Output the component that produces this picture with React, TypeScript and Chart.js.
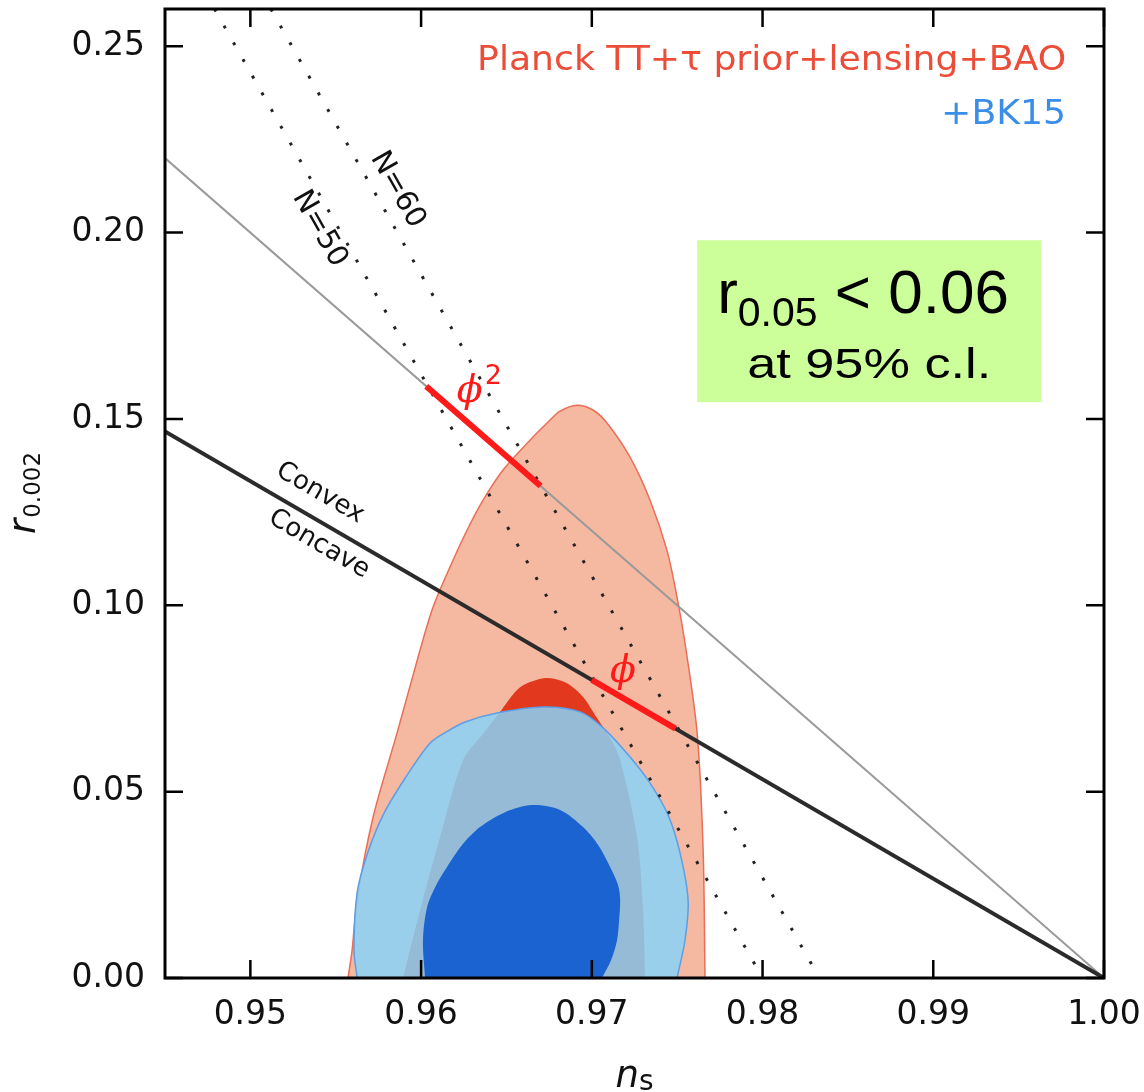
import React, { useEffect, useRef } from "react";
import { Chart, registerables } from "chart.js";

Chart.register(...registerables);

// ---------- axes ----------
const xMin = 0.945;
const xMax = 1.0;
const yMin = 0.0;
const yMax = 0.26;
const xTickValues = [0.95, 0.96, 0.97, 0.98, 0.99, 1.0];
const yTickValues = [0.0, 0.05, 0.1, 0.15, 0.2, 0.25];

// ---------- Planck TT+tau prior+lensing+BAO, 95% region (n_s, r) ----------
const planck95Ns = [0.95572, 0.95596, 0.95625, 0.95719, 0.95859, 0.95994, 0.9607, 0.96187, 0.96272, 0.96363, 0.9648, 0.96638, 0.96738, 0.96814, 0.96914, 0.97007, 0.97089, 0.97223, 0.97341, 0.9744, 0.97499, 0.97552, 0.97617, 0.97652, 0.97663];
const planck95R = [0.0, 0.0075, 0.0209, 0.0432, 0.0657, 0.088, 0.0995, 0.1121, 0.1204, 0.1282, 0.1363, 0.1443, 0.1489, 0.1521, 0.1537, 0.1524, 0.1489, 0.1398, 0.1282, 0.1148, 0.1022, 0.088, 0.0657, 0.0343, 0.0];

// ---------- Planck 68% region ----------
const planck68Ns = [0.95894, 0.95994, 0.96111, 0.96246, 0.96357, 0.96462, 0.96562, 0.96638, 0.96744, 0.96855, 0.96949, 0.97031, 0.97107, 0.97166, 0.97265, 0.973, 0.97312];
const planck68R = [0.0, 0.0182, 0.0378, 0.0585, 0.0652, 0.0714, 0.0773, 0.0794, 0.0805, 0.0791, 0.0754, 0.0697, 0.0644, 0.0585, 0.0378, 0.0182, 0.0];

// ---------- +BK15, 95% region ----------
const bk95Ns = [0.95625, 0.95607, 0.95625, 0.95683, 0.95777, 0.95906, 0.96052, 0.96146, 0.96258, 0.96445, 0.96714, 0.96931, 0.97066, 0.97224, 0.97341, 0.97447, 0.97517, 0.97564, 0.97546, 0.97499];
const bk95R = [0.0, 0.0075, 0.0228, 0.033, 0.0437, 0.0536, 0.063, 0.066, 0.0687, 0.0711, 0.0727, 0.0714, 0.0671, 0.0593, 0.0523, 0.0437, 0.0335, 0.0209, 0.0102, 0.0];

// ---------- +BK15, 68% region ----------
const bk68Ns = [0.96023, 0.96011, 0.96035, 0.96088, 0.96152, 0.9624, 0.96345, 0.96492, 0.9665, 0.96814, 0.96949, 0.97037, 0.97107, 0.97154, 0.97166, 0.9716, 0.97148, 0.97113, 0.9706];
const bk68R = [0.0, 0.0102, 0.019, 0.0249, 0.0298, 0.0357, 0.0405, 0.0445, 0.0464, 0.0451, 0.0405, 0.0357, 0.0298, 0.0249, 0.0209, 0.0156, 0.0102, 0.0048, 0.0];

// ---------- model lines ----------
const phi2LineNs = [0.945, 1.0];
const phi2LineR = [0.22, 0.0];
const linearLineNs = [0.945, 1.0];
const linearLineR = [0.14667, 0.0];
const n50Ns = [0.9479, 0.98];
const n50R = [0.26, 0.0];
const n60Ns = [0.9512, 0.98333];
const n60R = [0.26, 0.0];
const phi2SegNs = [0.9603, 0.967];
const phi2SegR = [0.1588, 0.132];
const phiSegNs = [0.97, 0.9749];
const phiSegR = [0.08, 0.0669];

// ---------- annotation anchors (data units) ----------
const annot = {
  convex: [0.95408, 0.1301],
  concave: [0.95402, 0.1164],
  n50: [0.95405, 0.201],
  n60: [0.95862, 0.2115],
  phi2: [0.96285, 0.1545],
  phi: [0.97183, 0.0794],
  legendRight: 0.99778,
  legendR1: 0.24356,
  legendR2: 0.22908,
  box: [0.97617, 0.99632, 0.19796, 0.15451],
};

const pts = (xs: number[], ys: number[]) => xs.map((x, i) => ({ x, y: ys[i] }));

const SANS = '"DejaVu Sans"';

function fitText(ctx: CanvasRenderingContext2D, text: string, x: number, y: number, align: CanvasTextAlign, targetW: number) {
  const w = ctx.measureText(text).width;
  const s = targetW / w;
  ctx.save();
  ctx.translate(x, y);
  ctx.scale(s, 1);
  ctx.textAlign = align;
  ctx.fillText(text, 0, 0);
  ctx.restore();
}

function rotText(ctx: CanvasRenderingContext2D, text: string, cx: number, cy: number, ang: number, font: string, color: string) {
  ctx.save();
  ctx.translate(cx, cy);
  ctx.rotate(ang);
  ctx.font = font;
  ctx.fillStyle = color;
  ctx.textAlign = "center";
  ctx.textBaseline = "middle";
  ctx.fillText(text, 0, 0);
  ctx.restore();
}

const overlayPlugin = {
  id: "overlay",
  afterDatasetsDraw(chart: any) {
    const { ctx, chartArea: a } = chart;
    const xs = chart.scales.x;
    const ys = chart.scales.y;
    const X = (v: number) => xs.getPixelForValue(v);
    const Y = (v: number) => ys.getPixelForValue(v);
    ctx.save();

    // frame + inward ticks
    ctx.strokeStyle = "#000";
    ctx.lineWidth = 3;
    ctx.strokeRect(a.left, a.top, a.right - a.left, a.bottom - a.top);
    ctx.lineWidth = 2.5;
    ctx.beginPath();
    for (const v of xTickValues) {
      const p = X(v);
      ctx.moveTo(p, a.bottom);
      ctx.lineTo(p, a.bottom - 18);
      ctx.moveTo(p, a.top);
      ctx.lineTo(p, a.top + 18);
    }
    for (const v of yTickValues) {
      const p = Y(v);
      ctx.moveTo(a.left, p);
      ctx.lineTo(a.left + 18, p);
      ctx.moveTo(a.right, p);
      ctx.lineTo(a.right - 18, p);
    }
    ctx.stroke();

    // rotated labels
    const angLin = Math.atan2(Y(linearLineR[1]) - Y(linearLineR[0]), X(linearLineNs[1]) - X(linearLineNs[0]));
    const angN = Math.atan2(Y(n50R[1]) - Y(n50R[0]), X(n50Ns[1]) - X(n50Ns[0]));
    rotText(ctx, "Convex", X(annot.convex[0]), Y(annot.convex[1]), angLin, `26px ${SANS}`, "#111");
    rotText(ctx, "Concave", X(annot.concave[0]), Y(annot.concave[1]), angLin, `26px ${SANS}`, "#111");
    rotText(ctx, "N=50", X(annot.n50[0]), Y(annot.n50[1]), angN, `29px ${SANS}`, "#111");
    rotText(ctx, "N=60", X(annot.n60[0]), Y(annot.n60[1]), angN, `29px ${SANS}`, "#111");

    // phi labels
    ctx.fillStyle = "#ff1a1a";
    ctx.textBaseline = "alphabetic";
    ctx.font = 'italic 38px "DejaVu Serif"';
    ctx.textAlign = "center";
    const phiW = ctx.measureText("ϕ").width;
    ctx.fillText("ϕ", X(annot.phi2[0]), Y(annot.phi2[1]));
    ctx.font = `27px ${SANS}`;
    ctx.textAlign = "left";
    ctx.fillText("2", X(annot.phi2[0]) + phiW / 2 + 2, Y(annot.phi2[1]) - 18);
    ctx.font = 'italic 38px "DejaVu Serif"';
    ctx.textAlign = "center";
    ctx.fillText("ϕ", X(annot.phi[0]), Y(annot.phi[1]));

    // legend text
    ctx.font = `34px ${SANS}`;
    ctx.fillStyle = "#ec4d38";
    fitText(ctx, "Planck TT+τ prior+lensing+BAO", X(annot.legendRight), Y(annot.legendR1), "right", 589);
    ctx.fillStyle = "#3b8ee8";
    fitText(ctx, "+BK15", X(annot.legendRight), Y(annot.legendR2), "right", 125);

    // green box
    const bx0 = X(annot.box[0]);
    const bx1 = X(annot.box[1]);
    const by0 = Y(annot.box[2]);
    const by1 = Y(annot.box[3]);
    ctx.fillStyle = "#ccff99";
    ctx.fillRect(bx0, by0, bx1 - bx0, by1 - by0);
    ctx.fillStyle = "#000";
    ctx.textAlign = "left";
    const big = '62px "Liberation Sans"';
    const sub = '41px "Liberation Sans"';
    let cx = bx0 + 20;
    const base1 = by0 + 73;
    ctx.font = big;
    ctx.fillText("r", cx, base1);
    cx += ctx.measureText("r").width;
    ctx.font = sub;
    ctx.fillText("0.05", cx, base1 + 13);
    cx += ctx.measureText("0.05").width;
    ctx.font = big;
    ctx.fillText(" < 0.06", cx, base1);
    ctx.font = '43px "Liberation Sans"';
    fitText(ctx, "at 95% c.l.", (bx0 + bx1) / 2, by0 + 138, "center", 244);

    // axis titles
    ctx.fillStyle = "#111";
    ctx.textAlign = "left";
    ctx.textBaseline = "alphabetic";
    const nFont = `italic 37px ${SANS}`;
    const sFont = `28px ${SANS}`;
    ctx.font = nFont;
    const nW = ctx.measureText("n").width;
    ctx.font = sFont;
    const sW = ctx.measureText("s").width;
    const xt0 = (a.left + a.right) / 2 - (nW + sW) / 2;
    ctx.font = nFont;
    ctx.fillText("n", xt0, a.bottom + 109);
    ctx.font = sFont;
    ctx.fillText("s", xt0 + nW, a.bottom + 112);

    const rFont = `italic 37px ${SANS}`;
    const r2Font = `23px ${SANS}`;
    ctx.font = rFont;
    const rW = ctx.measureText("r").width;
    ctx.font = r2Font;
    const r2W = ctx.measureText("0.002").width;
    const yc = (a.top + a.bottom) / 2;
    ctx.save();
    ctx.translate(35, yc + (rW + r2W) / 2);
    ctx.rotate(-Math.PI / 2);
    ctx.font = rFont;
    ctx.fillText("r", 0, 0);
    ctx.font = r2Font;
    ctx.fillText("0.002", rW + 1, 5);
    ctx.restore();

    ctx.restore();
  },
};

const zeroPad = (s: any) => {
  s.paddingTop = 0;
  s.paddingBottom = 0;
  s.paddingLeft = 0;
  s.paddingRight = 0;
};

export default function App() {
  const canvasRef = useRef<HTMLCanvasElement | null>(null);

  useEffect(() => {
    document.body.style.margin = "0";
    const canvas = canvasRef.current;
    if (!canvas) return;
    Chart.defaults.font.family = "DejaVu Sans";

    const area = (data: any[], fill: string, border: string, bw: number, order: number) => ({
      data,
      showLine: true,
      fill: "shape",
      backgroundColor: fill,
      borderColor: border,
      borderWidth: bw,
      tension: 0.3,
      pointRadius: 0,
      order,
    });
    const line = (data: any[], color: string, width: number, order: number, dash: number[] = []) => ({
      data,
      showLine: true,
      fill: false,
      borderColor: color,
      backgroundColor: color,
      borderWidth: width,
      borderDash: dash,
      borderCapStyle: "butt",
      tension: 0,
      pointRadius: 0,
      order,
    });

    const chart = new Chart(canvas, {
      type: "scatter",
      data: {
        datasets: [
          area(pts(planck95Ns, planck95R), "#f5b8a1", "#ea6e57", 1.5, 20),
          area(pts(planck68Ns, planck68R), "#e2381d", "rgba(0,0,0,0)", 0, 19),
          area(pts(bk95Ns, bk95R), "rgba(136,210,247,0.85)", "#5d9ee6", 1.5, 18),
          area(pts(bk68Ns, bk68R), "#1b63d1", "rgba(0,0,0,0)", 0, 17),
          line(pts(n50Ns, n50R), "#222", 3, 10, [3, 16.2]),
          line(pts(n60Ns, n60R), "#222", 3, 9, [3, 16.2]),
          line(pts(phi2LineNs, phi2LineR), "#9a9a9a", 2, 8),
          line(pts(linearLineNs, linearLineR), "#2b2b2b", 4, 7),
          line(pts(phi2SegNs, phi2SegR), "#ff1a1a", 6, 2),
          line(pts(phiSegNs, phiSegR), "#ff1a1a", 6, 1),
        ] as any,
      },
      options: {
        responsive: false,
        animation: false,
        devicePixelRatio: 1,
        layout: { padding: { top: 9, right: 40, bottom: 0, left: 0 } },
        plugins: { legend: { display: false }, tooltip: { enabled: false } },
        scales: {
          x: {
            type: "linear",
            min: xMin,
            max: xMax,
            grid: { display: false },
            border: { display: false },
            afterBuildTicks: (s: any) => {
              s.ticks = xTickValues.map((v) => ({ value: v }));
            },
            afterFit: (s: any) => {
              s.height = 114;
              zeroPad(s);
            },
            ticks: {
              autoSkip: false,
              maxRotation: 0,
              padding: 10,
              color: "#111",
              font: { family: "DejaVu Sans", size: 33 },
              callback: (v: any) => Number(v).toFixed(2),
            },
          },
          y: {
            type: "linear",
            min: yMin,
            max: yMax,
            grid: { display: false },
            border: { display: false },
            afterBuildTicks: (s: any) => {
              s.ticks = yTickValues.map((v) => ({ value: v }));
            },
            afterFit: (s: any) => {
              s.width = 165;
              zeroPad(s);
            },
            ticks: {
              autoSkip: false,
              padding: 12,
              color: "#111",
              font: { family: "DejaVu Sans", size: 33 },
              callback: (v: any) => Number(v).toFixed(2),
            },
          },
        },
      } as any,
      plugins: [overlayPlugin],
    });
    return () => chart.destroy();
  }, []);

  return (
    <div style={{ width: 1144, height: 1092, background: "#fff" }}>
      <canvas ref={canvasRef} width={1144} height={1092} style={{ display: "block" }} />
    </div>
  );
}
